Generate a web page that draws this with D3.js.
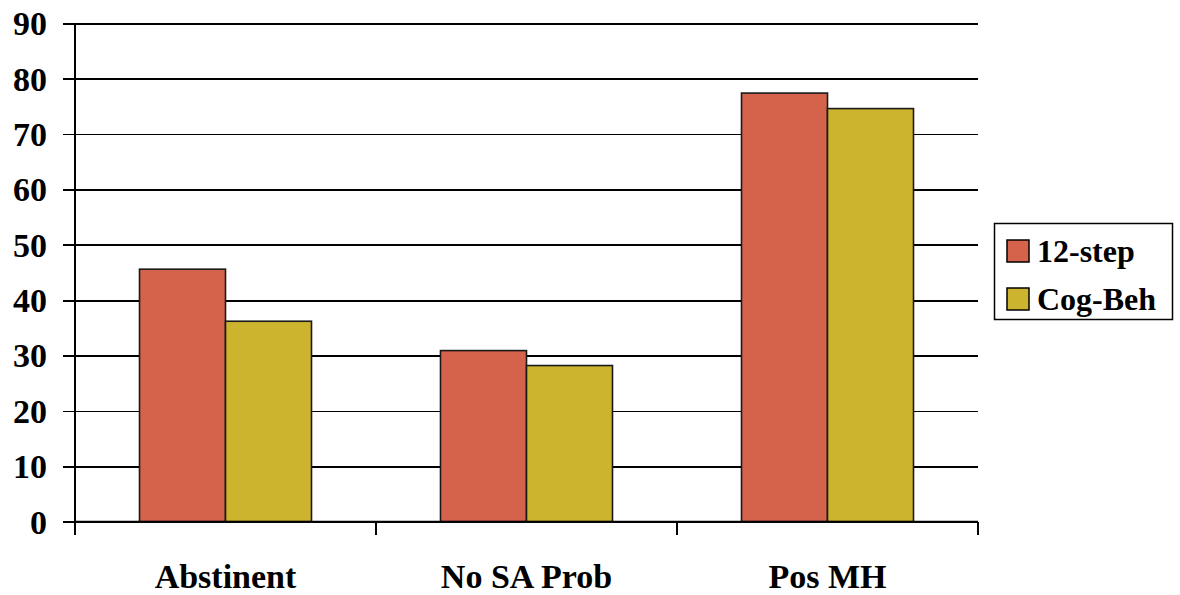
<!DOCTYPE html>
<html>
<head>
<meta charset="utf-8">
<script src="https://cdn.jsdelivr.net/npm/d3@7"></script>
<style>
  html, body { margin: 0; padding: 0; background: #fff; }
  svg { display: block; }
  text { font-family: "Liberation Serif", Tinos, "Nimbus Roman", "Times New Roman", Times, serif; font-weight: bold; fill: #000; }
</style>
</head>
<body>
<svg id="chart" width="1180" height="595"></svg>
<script>
// Outcome categories and percentages per treatment group
const categories = ["Abstinent", "No SA Prob", "Pos MH"];
const seriesNames = ["12-step", "Cog-Beh"];
const twelveStep = [45.6, 30.9, 77.4];
const cogBeh = [36.2, 28.2, 74.6];
const yTicks = [0, 10, 20, 30, 40, 50, 60, 70, 80, 90];
const colors = ["#D5634B", "#CDB42E"];

const series = [twelveStep, cogBeh];
const serifFont = '"Liberation Serif", Tinos, "Nimbus Roman", "Times New Roman", Times, serif';

const svg = d3.select("#chart");
const plot = { left: 75, right: 978, top: 23.3, bottom: 521.7 };

const x = d3.scaleBand().domain(categories).range([plot.left, plot.right]).paddingInner(0).paddingOuter(0);
const xInner = d3.scaleBand().domain(seriesNames).range([0, x.bandwidth()]).paddingInner(0).paddingOuter(0.75);
const y = d3.scaleLinear().domain([0, 90]).range([plot.bottom, plot.top]);

// Horizontal gridlines with outward tick marks
const yAxis = d3.axisLeft(y).tickValues(yTicks).tickSize(-(plot.right - plot.left)).tickPadding(0).tickFormat("");
const gy = svg.append("g").attr("transform", `translate(${plot.left},0)`).call(yAxis);
gy.select(".domain").remove();
gy.selectAll(".tick line")
  .attr("x1", -12)
  .attr("stroke", "#000")
  .attr("stroke-width", 1.8)
  .attr("shape-rendering", "crispEdges");

// Y tick labels
svg.append("g").selectAll("text").data(yTicks).join("text")
  .attr("x", 47)
  .attr("y", d => y(d))
  .attr("dy", "0.35em")
  .attr("text-anchor", "end")
  .attr("font-family", serifFont)
  .attr("font-weight", "bold")
  .attr("font-size", 34)
  .text(d => d);

// Vertical axis line
svg.append("line")
  .attr("x1", plot.left).attr("x2", plot.left)
  .attr("y1", plot.top).attr("y2", plot.bottom)
  .attr("stroke", "#000").attr("stroke-width", 1.8)
  .attr("shape-rendering", "crispEdges");

// Bars
const groups = svg.append("g").selectAll("g").data(categories).join("g")
  .attr("transform", d => `translate(${x(d)},0)`);

groups.selectAll("rect")
  .data((d, i) => seriesNames.map((s, j) => ({ s, v: series[j][i], j })))
  .join("rect")
  .attr("x", d => xInner(d.s))
  .attr("width", xInner.bandwidth())
  .attr("y", d => y(d.v))
  .attr("height", d => y(0) - y(d.v))
  .attr("fill", d => colors[d.j])
  .attr("stroke", "#1a1a1a")
  .attr("stroke-width", 1.6);

// Category axis along zero line
const xAxis = d3.axisBottom(x).tickSize(0).tickFormat("");
const gx = svg.append("g").attr("transform", `translate(0,${plot.bottom})`).call(xAxis);
gx.select(".domain").attr("stroke", "#000").attr("stroke-width", 1.8).attr("d", `M${plot.left},0H${plot.right}`);
const boundaries = [plot.left, ...categories.map(c => x(c) + x.bandwidth())];
gx.selectAll("line.sep").data(boundaries).join("line")
  .attr("class", "sep")
  .attr("x1", d => d).attr("x2", d => d)
  .attr("y1", 0).attr("y2", 13)
  .attr("stroke", "#000").attr("stroke-width", 1.8)
  .attr("shape-rendering", "crispEdges");

// Category labels
svg.append("g").selectAll("text").data(categories).join("text")
  .attr("x", d => x(d) + x.bandwidth() / 2)
  .attr("y", 588)
  .attr("text-anchor", "middle")
  .attr("font-family", serifFont)
  .attr("font-weight", "bold")
  .attr("font-size", 34)
  .text(d => d);

// Legend
const legend = svg.append("g");
legend.append("rect")
  .attr("x", 994.5).attr("y", 223.5)
  .attr("width", 178).attr("height", 96)
  .attr("fill", "#fff").attr("stroke", "#000").attr("stroke-width", 1.5);
const items = legend.selectAll("g").data(seriesNames).join("g")
  .attr("transform", (d, i) => `translate(1007,${240 + i * 48})`);
items.append("rect")
  .attr("width", 22).attr("height", 22)
  .attr("fill", (d, i) => colors[i])
  .attr("stroke", "#000").attr("stroke-width", 1.5);
items.append("text")
  .attr("x", 30).attr("y", 11)
  .attr("dy", "0.35em")
  .attr("font-family", serifFont)
  .attr("font-weight", "bold")
  .attr("font-size", 32)
  .text(d => d);
</script>
</body>
</html>
